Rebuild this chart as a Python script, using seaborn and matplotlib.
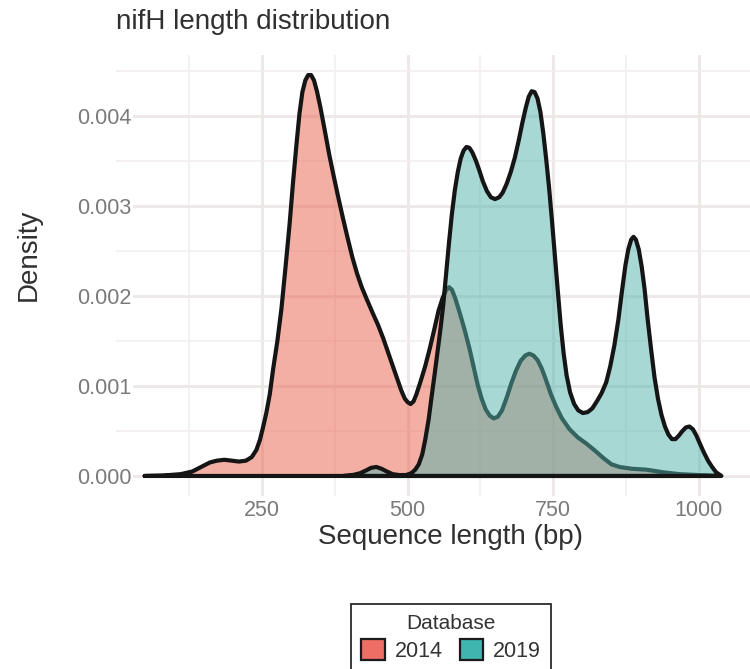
import matplotlib
matplotlib.use("Agg")
import matplotlib.pyplot as plt
from matplotlib.patches import Patch
import pandas as pd
import seaborn as sns

# ---------------- data ----------------
databases = ["2014", "2019"]

length_2014 = [48, 80, 110, 130, 148, 160, 172, 185, 198, 210, 222, 232, 240, 246, 251,
               257, 263, 269, 276, 283, 290, 297, 303, 309, 314, 319, 324, 329, 334, 339,
               344, 350, 357, 365, 373, 381, 389, 397, 405, 413, 421, 430, 440, 449, 458,
               466, 474, 482, 489, 495, 500, 505, 510, 515, 522, 530, 538, 546, 553, 560,
               566, 571, 576, 582, 590, 598, 606, 613, 620, 627, 634, 641, 648, 655, 662,
               670, 678, 686, 694, 702, 709, 716, 723, 730, 738, 746, 755, 765, 778, 792,
               807, 822, 836, 850, 864, 885, 910, 940, 967, 1000, 1036]
density_2014 = [0, 0.000005, 0.00002, 0.00005, 0.00011, 0.00015, 0.00017, 0.00018,
                0.00017, 0.00016, 0.00017, 0.00021, 0.00029, 0.0004, 0.00053, 0.0007,
                0.00091, 0.0012, 0.0015, 0.00186, 0.00232, 0.0028, 0.00327, 0.0037,
                0.00403, 0.00427, 0.0044, 0.00446, 0.00446, 0.0044, 0.00428, 0.0041,
                0.00386, 0.00358, 0.00333, 0.00309, 0.00286, 0.00264, 0.00243, 0.00225,
                0.0021, 0.00196, 0.00181, 0.00168, 0.00153, 0.00138, 0.00123, 0.00108,
                0.00095, 0.00086, 0.00082, 0.0008, 0.00083, 0.00091, 0.00105, 0.00122,
                0.00142, 0.00164, 0.00184, 0.00198, 0.00207, 0.0021, 0.00207, 0.00197,
                0.0018, 0.00162, 0.00142, 0.00122, 0.00102, 0.00086, 0.00074, 0.00067,
                0.00064, 0.00066, 0.00073, 0.00087, 0.00103, 0.00117, 0.00128, 0.00134,
                0.00136, 0.00134, 0.00129, 0.0012, 0.00106, 0.00091, 0.00077, 0.00064,
                0.00052, 0.00043, 0.00036, 0.00028, 0.0002, 0.00013, 0.0001, 0.00008,
                0.00007, 0.00004, 0.00002, 0.00001, 0]

length_2019 = [390, 405, 418, 428, 437, 446, 455, 464, 474, 485, 497, 506, 513, 519,
               525, 530, 536, 541, 546, 551, 556, 561, 566, 571, 576, 581, 586, 591, 596,
               601, 606, 611, 617, 623, 629, 636, 643, 650, 657, 663, 670, 677, 684, 691,
               697, 703, 708, 713, 718, 723, 728, 733, 738, 743, 748, 753, 758, 763, 768,
               773, 779, 786, 793, 801, 809, 817, 825, 833, 841, 848, 855, 862, 868, 874,
               879, 884, 888, 892, 897, 902, 907, 912, 918, 924, 930, 936, 942, 948, 954,
               960, 966, 972, 978, 984, 990, 996, 1002, 1009, 1016, 1023, 1030, 1039]
density_2019 = [0, 0.00001, 0.00003, 0.00006, 0.00009, 0.0001, 0.00008, 0.00005,
                0.00002, 0.00001, 0.00001, 0.00003, 0.00007, 0.00013, 0.00024, 0.0004,
                0.00063, 0.00088, 0.00112, 0.00137, 0.00162, 0.0019, 0.00225, 0.0026,
                0.00292, 0.00318, 0.00338, 0.00353, 0.00362, 0.00366, 0.00365, 0.0036,
                0.00351, 0.0034, 0.00328, 0.00317, 0.0031, 0.00308, 0.0031, 0.00315,
                0.00325, 0.00338, 0.00354, 0.00374, 0.00393, 0.0041, 0.00422, 0.00428,
                0.00427, 0.0042, 0.00405, 0.00381, 0.00352, 0.0032, 0.00283, 0.00244,
                0.00205, 0.00167, 0.00136, 0.00112, 0.00093, 0.0008, 0.00073, 0.0007,
                0.00071, 0.00075, 0.00083, 0.00092, 0.00104, 0.00122, 0.00145, 0.00174,
                0.00205, 0.00234, 0.00252, 0.00263, 0.00266, 0.00263, 0.00252, 0.00233,
                0.00208, 0.00176, 0.00142, 0.0011, 0.00086, 0.00068, 0.00055, 0.00046,
                0.00041, 0.00041, 0.00045, 0.0005, 0.00054, 0.00055, 0.00052, 0.00045,
                0.00036, 0.00026, 0.00017, 0.0001, 0.00004, 0]

x_ticks = [250, 500, 750, 1000]
x_tick_labels = ["250", "500", "750", "1000"]
x_minor = [125, 375, 625, 875]
y_ticks = [0.000, 0.001, 0.002, 0.003, 0.004]
y_tick_labels = ["0.000", "0.001", "0.002", "0.003", "0.004"]
y_minor = [0.0005, 0.0015, 0.0025, 0.0035, 0.0045]

fill_colors = {"2014": "#EB614B", "2019": "#51B3AB"}
legend_colors = {"2014": "#EE6E66", "2019": "#3FB5AF"}

# ---------------- styling ----------------
sns.set_theme(style="white")
plt.rcParams["font.family"] = ["Liberation Sans", "DejaVu Sans"]

W, H = 750, 669
fig = plt.figure(figsize=(W / 100, H / 100), dpi=100)
ax = fig.add_axes([115.8 / W, 1 - 496 / H, 670.2 / W, 441 / H])

series = {
    "2014": (length_2014, density_2014),
    "2019": (length_2019, density_2019),
}

for i, db in enumerate(databases):
    xs, ys = series[db]
    ax.fill_between(xs, ys, 0, color=fill_colors[db], alpha=0.5, lw=0, zorder=2 + 2 * i)
    # closed outline (curve + baseline back to start)
    df = pd.DataFrame({"x": list(xs) + [xs[0]], "y": list(ys) + [0.0]})
    sns.lineplot(data=df, x="x", y="y", ax=ax, sort=False, estimator=None,
                 color="#151515", lw=3.0, zorder=3 + 2 * i,
                 solid_capstyle="round", solid_joinstyle="round")

ax.set_xlim(-1.6, 1150)
ax.set_ylim(-0.000223, 0.004683)

ax.set_xticks(x_ticks)
ax.set_xticklabels(x_tick_labels)
ax.set_xticks(x_minor, minor=True)
ax.set_yticks(y_ticks)
ax.set_yticklabels(y_tick_labels)
ax.set_yticks(y_minor, minor=True)

ax.set_axisbelow(True)
ax.grid(which="major", color="#EDE7E7", lw=2.0)
ax.grid(which="minor", color="#F3EFEF", lw=1.2)
for s in ax.spines.values():
    s.set_visible(False)

ax.tick_params(axis="both", which="both", length=0)
ax.tick_params(axis="y", pad=-11.4, labelsize=15.5, labelcolor="#7A7A7A")
ax.tick_params(axis="x", pad=3, labelsize=15.5, labelcolor="#7A7A7A")
for lbl in ax.get_yticklabels():
    lbl.set_bbox(dict(facecolor="white", edgecolor="none", pad=1.0))

ax.set_xlabel("Sequence length (bp)", fontsize=20, color="#303030", labelpad=2)
ax.set_ylabel("Density", fontsize=20, color="#303030")
ax.yaxis.set_label_coords(42 / W, 1 - 255 / H, transform=fig.transFigure)
ax.set_title("nifH length distribution", loc="left", fontsize=20, color="#303030", pad=19)

handles = [Patch(facecolor=legend_colors[db], edgecolor="#1a1a1a", lw=1.6) for db in databases]
leg = fig.legend(handles, databases, title="Database", loc="upper center",
                 bbox_to_anchor=(451 / W, 1 - 604 / H), ncol=2, fontsize=15.5,
                 title_fontsize=15, frameon=True, fancybox=False, framealpha=1,
                 edgecolor="#2a2a2a", handlelength=1.1, handleheight=1.1,
                 handletextpad=0.45, columnspacing=0.8, borderpad=0.45,
                 labelspacing=0.3, borderaxespad=0)
leg.get_frame().set_linewidth(1.3)
for t in leg.get_texts():
    t.set_color("#333333")
leg.get_title().set_color("#333333")

fig.savefig("out.png", dpi=100)
